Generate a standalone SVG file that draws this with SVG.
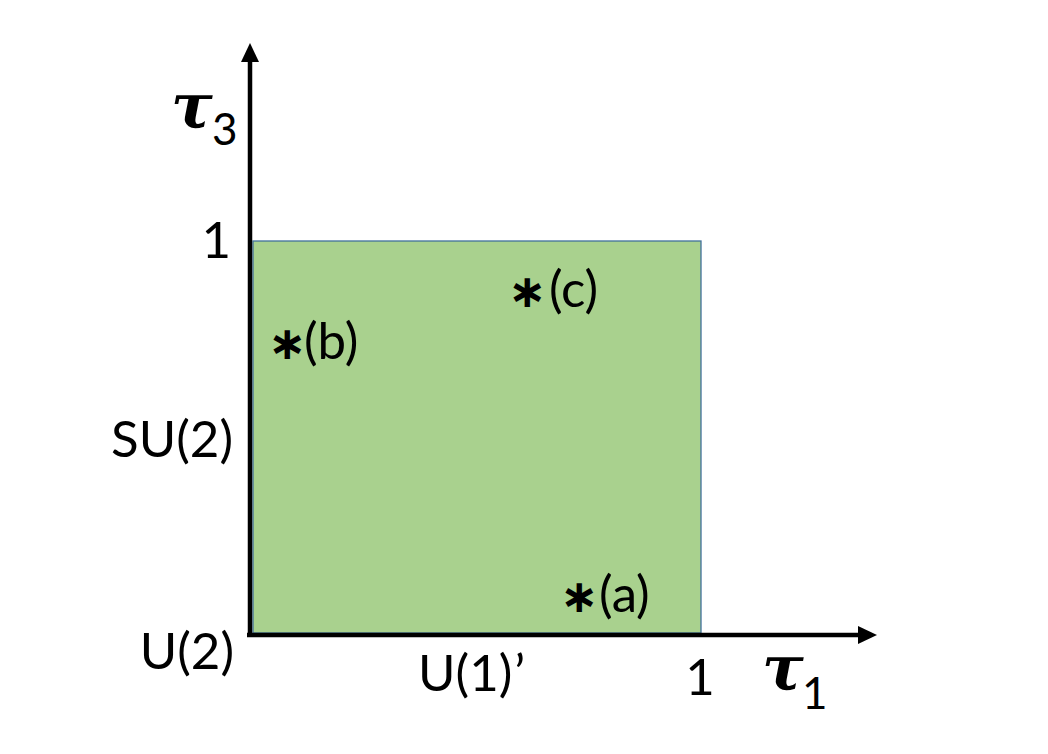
<svg xmlns="http://www.w3.org/2000/svg" width="1048" height="754" viewBox="0 0 1048 754">
<style>
.lbl{font-family:Lato,"Open Sans","Liberation Sans",sans-serif;font-size:51px;fill:#000}
.tau{font-family:"DejaVu Serif","Liberation Serif",serif;font-weight:bold;font-style:italic;font-size:62px;fill:#000}
.sub{font-family:Lato,"Open Sans","Liberation Sans",sans-serif;font-size:44px;fill:#000}
.ast{font-family:"DejaVu Sans",sans-serif;font-weight:bold;font-size:46px}
.axis{stroke:#000;stroke-width:4.5;fill:none}
</style>
<defs>
<marker id="ah" markerUnits="userSpaceOnUse" markerWidth="19" markerHeight="18" refX="0" refY="9" orient="auto" viewBox="0 0 19 18">
<path d="M0,0 L19,9 L0,18 z" fill="#000"/>
</marker>
</defs>
<rect width="1048" height="754" fill="#fff"/>
<g id="region">
<rect x="253" y="241" width="448" height="392" fill="#A9D18E" stroke="#41719C" stroke-width="1.3"/>
</g>
<g id="connectors">
<line class="axis" x1="247" y1="635" x2="858" y2="635" marker-end="url(#ah)"/>
<line class="axis" x1="250" y1="637" x2="250" y2="62" marker-end="url(#ah)"/>
</g>
<g id="axis-tau3">
<text class="tau" x="171" y="127">τ</text>
<text class="sub" x="212" y="145">3</text>
</g>
<g id="axis-tau1">
<text class="tau" x="762" y="689">τ</text>
<text class="sub" x="802" y="709">1</text>
</g>
<g id="tick-labels">
<text class="lbl" x="231" y="258" text-anchor="end">1</text>
<text class="lbl" x="233" y="457" text-anchor="end">SU(2)</text>
<text class="lbl" x="234" y="669" text-anchor="end">U(2)</text>
<text class="lbl" x="418" y="691">U(1)<tspan dx="2">’</tspan></text>
<text class="lbl" x="700" y="695" text-anchor="middle">1</text>
</g>
<g id="point-a"><text class="lbl" x="560" y="612"><tspan class="ast">∗</tspan><tspan x="599">(a)</tspan></text></g>
<g id="point-b"><text class="lbl" x="268" y="359"><tspan class="ast">∗</tspan><tspan x="304">(b)</tspan></text></g>
<g id="point-c"><text class="lbl" x="508" y="307"><tspan class="ast">∗</tspan><tspan x="549">(c)</tspan></text></g>
</svg>
